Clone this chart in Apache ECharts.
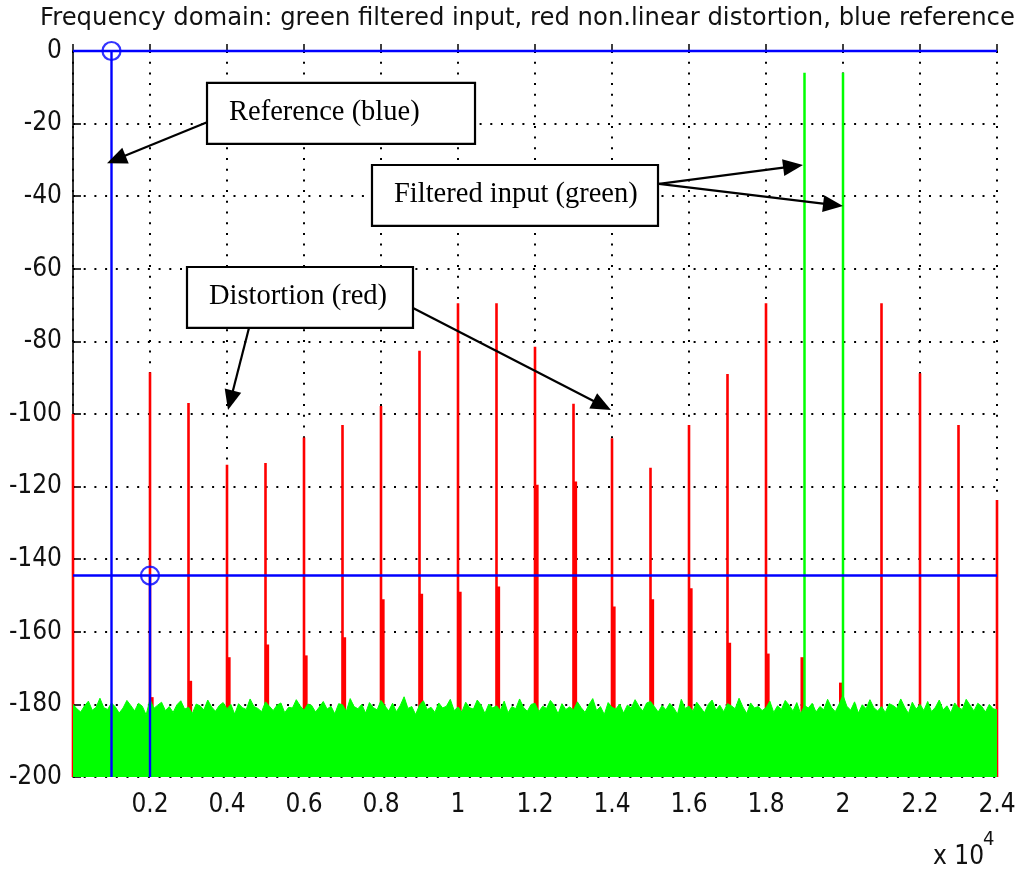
<!DOCTYPE html>
<html><head><meta charset="utf-8">
<script src="https://cdn.jsdelivr.net/npm/echarts@6/dist/echarts.min.js"></script>
<style>html,body{margin:0;padding:0;background:#fff}#c{width:1020px;height:870px}</style>
</head><body><div id="c"></div>
<script>
// ---------------- data ----------------
const titleText = 'Frequency domain: green filtered input, red non.linear distortion, blue reference';
const xMin = 0, xMax = 24000, xStep = 2000;
const yMin = -200, yMax = 0, yStep = 20;
const xTickLabels = ['', '0.2', '0.4', '0.6', '0.8', '1', '1.2', '1.4', '1.6', '1.8', '2', '2.2', '2.4'];

// red: main distortion spikes
const harmonicFreqs = [0, 2000, 3000, 4000, 5000, 6000, 7000, 8000, 9000, 10000, 11000, 12000, 13000, 14000, 15000, 16000, 17000, 18000, 21000, 22000, 23000, 24000];
const harmonicPeaks = [-100, -88.5, -97, -114, -113.5, -106.5, -103, -97.8, -82.6, -69.5, -69.5, -81.5, -97.2, -106.7, -114.8, -103, -89, -69.5, -69.5, -88.8, -103, -123.7];
// red: lower adjacent components (thick parts)
const sideFreqs = [2040, 3040, 4040, 5040, 6040, 7040, 8040, 9040, 10040, 11040, 12040, 13040, 14040, 15040, 16040, 17040, 18040, 18950, 19950];
const sideLevels = [-178, -173.5, -167, -163.5, -166.5, -161.5, -151, -149.5, -149, -147.5, -119.5, -118.6, -153, -151, -148, -163, -166, -167, -174];

// green: filtered input tones
const inputFreqs = [19000, 20000];
const inputPeaks = [-6, -6];
// green: noise floor, one value every 100 Hz from 0 to 24000
const noiseStep = 100;
const noiseLevels = [
-180.0,-181.2,-182.1,-180.4,-179.1,-181.6,-180.8,-178.3,-180.9,-181.4,
-179.6,-180.7,-182.4,-181.0,-178.9,-180.3,-181.8,-179.7,-180.5,-182.9,
-178.6,-181.1,-180.2,-179.4,-181.7,-180.6,-182.2,-180.1,-179.0,-181.3,
-180.8,-182.5,-179.9,-180.4,-181.5,-178.8,-180.7,-181.9,-180.3,-179.5,
-181.2,-180.0,-182.7,-179.8,-180.9,-181.4,-178.5,-180.6,-181.1,-182.0,
-179.3,-180.5,-181.7,-180.2,-179.6,-182.3,-180.8,-181.0,-178.7,-180.4,
-181.6,-179.9,-180.3,-182.1,-180.7,-179.2,-181.3,-180.5,-182.6,-179.8,
-180.1,-181.9,-178.4,-180.6,-181.2,-180.0,-182.4,-179.5,-180.9,-181.5,
-178.9,-180.4,-181.8,-179.7,-182.0,-180.3,-177.9,-181.1,-180.6,-182.8,
-180.2,-179.0,-181.4,-180.8,-182.2,-179.6,-181.0,-180.5,-178.6,-181.7,
-180.7,-182.1,-179.4,-180.9,-181.3,-178.8,-180.2,-182.5,-179.9,-181.0,
-180.4,-181.6,-179.1,-182.3,-180.6,-181.2,-178.5,-180.8,-181.9,-180.0,
-179.7,-182.0,-180.5,-181.1,-178.9,-180.3,-182.6,-179.8,-181.4,-180.7,
-181.5,-179.3,-180.9,-182.2,-180.1,-178.4,-181.7,-180.6,-182.8,-179.5,
-180.8,-181.3,-179.9,-182.4,-180.2,-181.0,-178.7,-180.5,-181.8,-179.6,
-179.2,-180.6,-182.1,-180.3,-181.5,-179.7,-180.9,-182.7,-178.6,-181.1,
-180.5,-181.9,-179.4,-180.8,-182.3,-180.0,-178.8,-181.6,-180.2,-182.0,
-179.8,-180.4,-181.2,-178.3,-180.7,-182.5,-179.6,-181.0,-180.6,-181.7,
-180.9,-179.1,-182.2,-180.4,-181.4,-178.9,-180.2,-181.8,-179.5,-182.6,
-180.3,-181.0,-179.7,-182.1,-180.6,-181.5,-178.6,-180.8,-182.0,-179.9,
-177.5,-180.5,-181.6,-179.3,-182.4,-180.1,-181.2,-178.7,-180.9,-181.8,
-180.6,-182.2,-179.8,-180.3,-181.1,-178.5,-180.7,-182.5,-179.4,-181.3,
-180.0,-181.7,-179.2,-182.0,-180.8,-178.8,-181.5,-180.4,-182.3,-179.6,
-180.9,-181.4,-178.6,-180.2,-181.8,-179.7,-180.5,-182.1,-180.0,-181.2,
-181.5
];

// blue: reference stems with circle heads and horizontal reference levels
const refFreqs = [1000, 2000];
const refLevels = [0, -144.5];

// annotations (data coordinates)
const notes = [
  { text: 'Reference (blue)', box: [3481, -8.8, 10442, -25.6],
    arrows: [{ from: [3481, -19.6], to: [883, -30.9] }] },
  { text: 'Filtered input (green)', box: [7766, -31.4, 15195, -48.2],
    arrows: [{ from: [15221, -36.6], to: [18961, -31.4] }, { from: [15221, -36.6], to: [20000, -42.7] }] },
  { text: 'Distortion (red)', box: [2961, -59.5, 8831, -76.3],
    arrows: [{ from: [4571, -76.3], to: [4026, -98.9] }, { from: [8831, -70.8], to: [13974, -98.9] }] }
];

// ---------------- chart ----------------
const chart = echarts.init(document.getElementById('c'), null, { renderer: 'canvas' });
const FONT = "'DejaVu Sans', sans-serif";
const FONTC = "'DejaVu Sans Condensed', 'DejaVu Sans', sans-serif";
const SERIF = "'Liberation Serif', 'Times New Roman', serif";

const noiseData = noiseLevels.map((v, i) => [i * noiseStep, v]);
const pairs = (xs, ys) => xs.map((x, i) => [x, ys[i]]);

function stem(color, width) {
  return function (params, api) {
    const x = api.value(0);
    const p0 = api.coord([x, yMin]);
    const p1 = api.coord([x, api.value(1)]);
    return { type: 'line', shape: { x1: p0[0], y1: p0[1], x2: p1[0], y2: p1[1] },
      style: { stroke: color, lineWidth: width, lineCap: 'butt' } };
  };
}

const dotted = { color: '#000', width: 2, type: [2, 8.7] };

chart.setOption({
  animation: false,
  backgroundColor: '#fff',
  title: { text: titleText, left: 35, top: 2,
    textStyle: { fontFamily: FONT, fontSize: 24.3, fontWeight: 'normal', color: '#111' } },
  grid: { left: 73, right: 23, top: 51, bottom: 93, containLabel: false },
  xAxis: {
    type: 'value', min: xMin, max: xMax, interval: xStep,
    axisLine: { show: false },
    axisTick: { show: true, inside: true, length: 7, lineStyle: { color: '#000', width: 1.5 } },
    axisLabel: { fontFamily: FONTC, fontSize: 26, color: '#111', margin: 15,
      formatter: v => xTickLabels[Math.round(v / xStep)] || '' },
    splitLine: { show: true, lineStyle: dotted }
  },
  yAxis: {
    type: 'value', min: yMin, max: yMax, interval: yStep,
    axisLine: { show: true, lineStyle: { color: '#000', width: 1.6 } },
    axisTick: { show: true, inside: true, length: 8, lineStyle: { color: '#000', width: 1.6 } },
    axisLabel: { fontFamily: FONTC, fontSize: 26, color: '#111', margin: 11 },
    splitLine: { show: true, lineStyle: dotted }
  },
  series: [
    { name: 'red main', type: 'custom', z: 2, clip: false, data: pairs(harmonicFreqs, harmonicPeaks),
      encode: { x: 0, y: 1 }, renderItem: stem('#ff0000', 2.6) },
    { name: 'red side', type: 'custom', z: 2, data: pairs(sideFreqs, sideLevels),
      encode: { x: 0, y: 1 }, renderItem: stem('#ff0000', 4.2) },
    { name: 'noise', type: 'line', z: 3, data: noiseData, symbol: 'none', clip: true,
      lineStyle: { color: '#00ff00', width: 1 }, areaStyle: { color: '#00ff00', opacity: 1, origin: 'start' } },
    { name: 'input', type: 'custom', z: 4, data: pairs(inputFreqs, inputPeaks),
      encode: { x: 0, y: 1 }, renderItem: stem('#00ff00', 2.5) },
    { name: 'ref level', type: 'custom', z: 5, clip: false, data: pairs(refFreqs, refLevels),
      encode: { x: 0, y: 1 },
      renderItem: function (params, api) {
        const y = api.value(1);
        const a = api.coord([xMin, y]), b = api.coord([xMax, y]);
        return { type: 'line', shape: { x1: a[0], y1: a[1], x2: b[0], y2: b[1] },
          style: { stroke: '#0000ff', lineWidth: 2.4 } };
      } },
    { name: 'ref stem', type: 'custom', z: 5, data: pairs(refFreqs, refLevels),
      encode: { x: 0, y: 1 }, renderItem: stem('#0000ff', 2.4) },
    { name: 'ref head', type: 'scatter', z: 6, clip: false, data: pairs(refFreqs, refLevels),
      symbol: 'circle', symbolSize: 18,
      itemStyle: { color: 'rgba(0,0,0,0)', borderColor: '#0000ff', borderWidth: 2.2 } }
  ]
});

// ---------------- annotations ----------------
const toPx = p => chart.convertToPixel({ gridIndex: 0 }, p);
const graphics = [];
function arrow(fromD, toD) {
  const s = toPx(fromD), t = toPx(toD);
  const dx = t[0] - s[0], dy = t[1] - s[1];
  const len = Math.hypot(dx, dy), ux = dx / len, uy = dy / len;
  const L = 20, W = 17;
  const bx = t[0] - ux * L, by = t[1] - uy * L;
  graphics.push({ type: 'line', z: 100, shape: { x1: s[0], y1: s[1], x2: bx + ux * 2, y2: by + uy * 2 },
    style: { stroke: '#000', lineWidth: 2.2 } });
  graphics.push({ type: 'polygon', z: 100, shape: { points: [t, [bx - uy * W / 2, by + ux * W / 2], [bx + uy * W / 2, by - ux * W / 2]] },
    style: { fill: '#000' } });
}
notes.forEach(n => {
  const a = toPx([n.box[0], n.box[1]]), b = toPx([n.box[2], n.box[3]]);
  graphics.push({ type: 'rect', z: 101, shape: { x: a[0], y: a[1], width: b[0] - a[0], height: b[1] - a[1] },
    style: { fill: '#fff', stroke: '#000', lineWidth: 2.2 } });
  graphics.push({ type: 'text', z: 102, style: { text: n.text, x: a[0] + 22, y: (a[1] + b[1]) / 2 - 1,
    textVerticalAlign: 'middle', font: '28.5px ' + SERIF, fill: '#000' } });
  n.arrows.forEach(ar => arrow(ar.from, ar.to));
});
// exponent label of the x axis
graphics.push({ type: 'text', z: 102, style: { text: 'x 10', x: 933, y: 857, textVerticalAlign: 'middle',
  font: '26px ' + FONTC, fill: '#111' } });
graphics.push({ type: 'text', z: 102, style: { text: '4', x: 983, y: 840, textVerticalAlign: 'middle',
  font: '20px ' + FONTC, fill: '#111' } });
chart.setOption({ graphic: graphics });
</script>
</body></html>
